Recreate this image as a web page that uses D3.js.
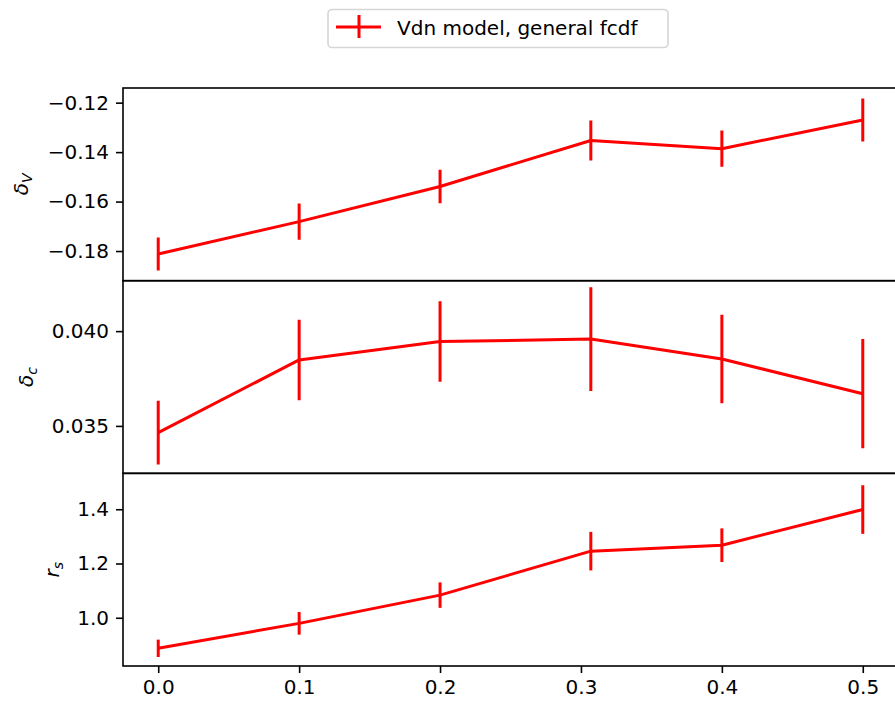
<!DOCTYPE html>
<html>
<head>
<meta charset="utf-8">
<script src="https://cdn.jsdelivr.net/npm/d3@7"></script>
<style>
  html, body { margin: 0; padding: 0; background: #fff; }
  svg { display: block; font-family: "DejaVu Sans", sans-serif; }
</style>
</head>
<body>
<svg id="chart" width="895" height="707"></svg>
<script>
// ---- data ----
const xValues = [0.0, 0.1, 0.2, 0.307, 0.4, 0.5];
const deltaV = [-0.1812, -0.1681, -0.1539, -0.1353, -0.1386, -0.1270];
const deltaVErr = [0.0067, 0.0073, 0.0068, 0.0081, 0.0073, 0.0087];
const deltaC = [0.03465, 0.03848, 0.03945, 0.03958, 0.03853, 0.03670];
const deltaCErr = [0.00168, 0.00212, 0.00212, 0.00274, 0.00234, 0.00288];
const rS = [0.8874, 0.9794, 1.0835, 1.2455, 1.2675, 1.399];
const rSErr = [0.032, 0.0417, 0.047, 0.071, 0.062, 0.0896];
const xTicks = [0.0, 0.1, 0.2, 0.3, 0.4, 0.5];
const deltaVTicks = [-0.18, -0.16, -0.14, -0.12];
const deltaCTicks = [0.035, 0.040];
const rSTicks = [1.0, 1.2, 1.4];
const legendLabel = "Vdn model, general fcdf";

// ---- layout ----
const svg = d3.select("#chart");
const left = 123, right = 898;
const panelTops = [88, 280.7, 473.3];
const panelH = 192.7;
const red = "#ff0000";
const fontSize = 20;

const x = d3.scaleLinear().domain([-0.025, 0.525]).range([left, right]);

const panels = [
  { vals: deltaV, errs: deltaVErr, ticks: deltaVTicks, domain: [-0.1920, -0.11407], fmt: d3.format(".2f"), label: ["δ", "V"], labelX: 28 },
  { vals: deltaC, errs: deltaCErr, ticks: deltaCTicks, domain: [0.032495, 0.04266], fmt: d3.format(".3f"), label: ["δ", "c"], labelX: 33 },
  { vals: rS, errs: rSErr, ticks: rSTicks, domain: [0.8222, 1.5325], fmt: d3.format(".1f"), label: ["r", "s"], labelX: 59 }
];

const fmtMinus = f => v => f(v).replace("-", "\u2212");

panels.forEach((p, i) => {
  const top = panelTops[i];
  const y = d3.scaleLinear().domain(p.domain).range([top + panelH, top]);
  const g = svg.append("g");

  const clipId = "clip" + i;
  svg.append("clipPath").attr("id", clipId)
    .append("rect").attr("x", left).attr("y", top).attr("width", right - left).attr("height", panelH);

  const data = xValues.map((xv, k) => ({ x: xv, y: p.vals[k], e: p.errs[k] }));
  const plot = g.append("g").attr("clip-path", `url(#${clipId})`);

  plot.append("path")
    .datum(data)
    .attr("fill", "none")
    .attr("stroke", red)
    .attr("stroke-width", 3)
    .attr("stroke-linejoin", "round")
    .attr("d", d3.line().x(d => x(d.x)).y(d => y(d.y)));

  plot.selectAll("line.err").data(data).join("line")
    .attr("class", "err")
    .attr("x1", d => x(d.x)).attr("x2", d => x(d.x))
    .attr("y1", d => y(d.y - d.e)).attr("y2", d => y(d.y + d.e))
    .attr("stroke", red).attr("stroke-width", 3);

  const yAxis = d3.axisLeft(y).tickValues(p.ticks).tickFormat(fmtMinus(p.fmt)).tickSize(7).tickPadding(7);
  const ga = g.append("g").attr("transform", `translate(${left},0)`).call(yAxis);
  ga.select(".domain").remove();
  ga.selectAll(".tick line").attr("stroke", "#000").attr("stroke-width", 1.6);
  ga.selectAll(".tick text").attr("font-size", fontSize).attr("fill", "#000").attr("font-family", "DejaVu Sans");

  g.append("rect")
    .attr("x", left).attr("y", top).attr("width", right - left).attr("height", panelH)
    .attr("fill", "none").attr("stroke", "#000").attr("stroke-width", 1.6);

  const cy = top + panelH / 2;
  const lab = g.append("text")
    .attr("transform", `translate(${p.labelX},${cy}) rotate(-90)`)
    .attr("text-anchor", "middle")
    .attr("font-size", fontSize)
    .attr("font-family", "DejaVu Sans")
    .attr("fill", "#000");
  lab.append("tspan").attr("font-style", "italic").text(p.label[0]);
  lab.append("tspan").attr("font-style", "italic").attr("font-size", fontSize * 0.7).attr("dy", 4).text(p.label[1]);

  if (i === 2) {
    const xAxis = d3.axisBottom(x).tickValues(xTicks).tickFormat(d3.format(".1f")).tickSize(7).tickPadding(7);
    const gx = g.append("g").attr("transform", `translate(0,${top + panelH})`).call(xAxis);
    gx.select(".domain").remove();
    gx.selectAll(".tick line").attr("stroke", "#000").attr("stroke-width", 1.6);
    gx.selectAll(".tick text").attr("font-size", fontSize).attr("fill", "#000").attr("font-family", "DejaVu Sans");
  }
});

// legend
const lg = svg.append("g");
lg.append("rect")
  .attr("x", 328).attr("y", 9.5).attr("width", 340).attr("height", 38).attr("rx", 4)
  .attr("fill", "#fff").attr("fill-opacity", 0.8)
  .attr("stroke", "#d6d6d6").attr("stroke-width", 1.6);
lg.append("line").attr("x1", 336).attr("x2", 381).attr("y1", 27).attr("y2", 27)
  .attr("stroke", red).attr("stroke-width", 3);
lg.append("line").attr("x1", 359).attr("x2", 359).attr("y1", 15).attr("y2", 38)
  .attr("stroke", red).attr("stroke-width", 3);
lg.append("text").attr("x", 397).attr("y", 34.5)
  .attr("font-size", fontSize).attr("font-family", "DejaVu Sans").attr("fill", "#000")
  .text(legendLabel);
</script>
</body>
</html>
